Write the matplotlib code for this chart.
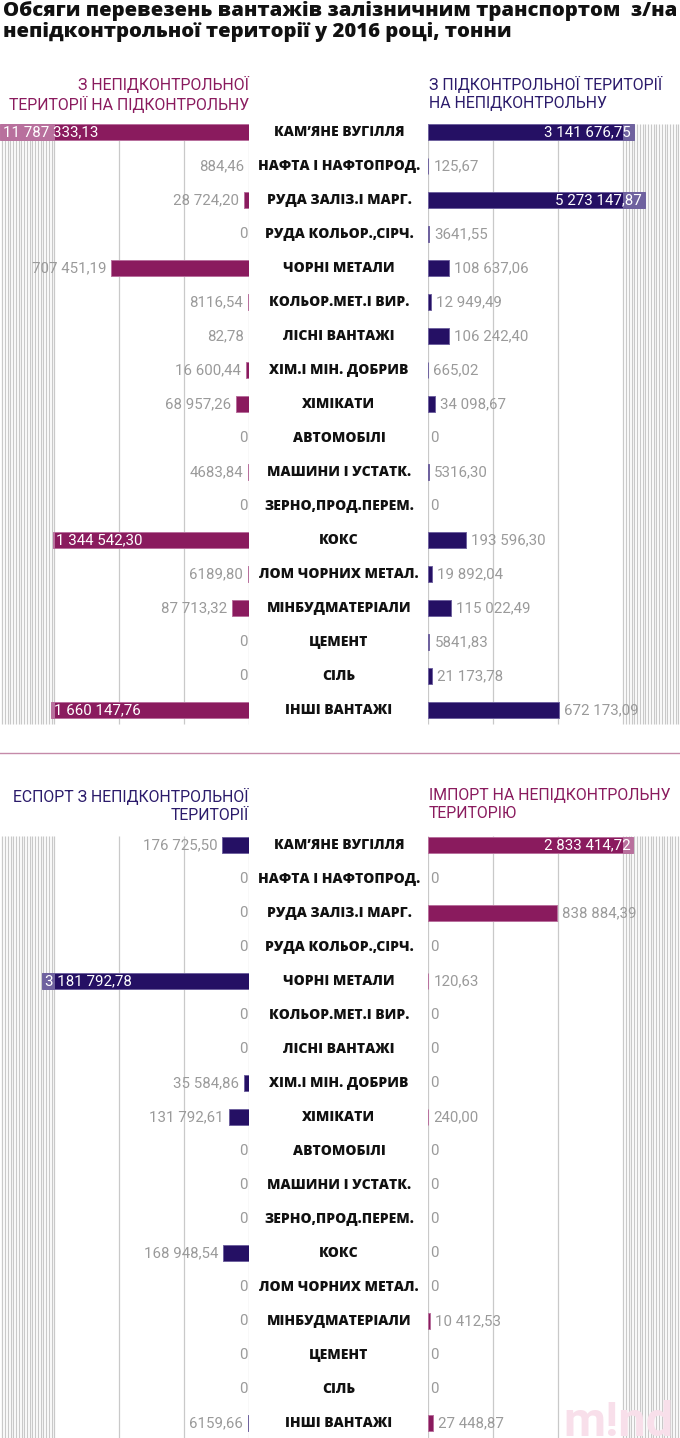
import numpy as np
import matplotlib
matplotlib.use("Agg")
import matplotlib.pyplot as plt
from matplotlib.transforms import blended_transform_factory

# ---------------- data ----------------
categories = ["КАМ’ЯНЕ ВУГІЛЛЯ", "НАФТА І НАФТОПРОД.", "РУДА ЗАЛІЗ.І МАРГ.", "РУДА КОЛЬОР.,СІРЧ.",
              "ЧОРНІ МЕТАЛИ", "КОЛЬОР.МЕТ.І ВИР.", "ЛІСНІ ВАНТАЖІ", "ХІМ.І МІН. ДОБРИВ",
              "ХІМІКАТИ", "АВТОМОБІЛІ", "МАШИНИ І УСТАТК.", "ЗЕРНО,ПРОД.ПЕРЕМ.",
              "КОКС", "ЛОМ ЧОРНИХ МЕТАЛ.", "МІНБУДМАТЕРІАЛИ", "ЦЕМЕНТ", "СІЛЬ", "ІНШІ ВАНТАЖІ"]

from_uncontrolled = [11787333.13, 884.46, 28724.20, 0, 707451.19, 8116.54, 82.78, 16600.44,
                     68957.26, 0, 4683.84, 0, 1344542.30, 6189.80, 87713.32, 0, 0, 1660147.76]
to_uncontrolled = [3141676.75, 125.67, 5273147.87, 3641.55, 108637.06, 12949.49, 106242.40, 665.02,
                   34098.67, 0, 5316.30, 0, 193596.30, 19892.04, 115022.49, 5841.83, 21173.78, 672173.09]
export_vals = [176725.50, 0, 0, 0, 3181792.78, 0, 0, 35584.86, 131792.61, 0, 0, 0,
               168948.54, 0, 0, 0, 0, 6159.66]
import_vals = [2833414.72, 0, 838884.39, 0, 120.63, 0, 0, 0, 240.00, 0, 0, 0,
               0, 0, 10412.53, 0, 0, 27448.87]

title = "Обсяги перевезень вантажів залізничним транспортом  з/на\nнепідконтрольної території у 2016 році, тонни"
sub_top_left = "З НЕПІДКОНТРОЛЬНОЇ\nТЕРИТОРІЇ НА ПІДКОНТРОЛЬНУ"
sub_top_right = "З ПІДКОНТРОЛЬНОЇ ТЕРИТОРІЇ\nНА НЕПІДКОНТРОЛЬНУ"
sub_bot_left = "ЕСПОРТ З НЕПІДКОНТРОЛЬНОЇ\nТЕРИТОРІЇ"
sub_bot_right = "ІМПОРТ НА НЕПІДКОНТРОЛЬНУ\nТЕРИТОРІЮ"

# ---------------- style ----------------
W, H = 680, 1438
MAG, MAG_L = "#8a1b5e", "#b8709d"
NAV, NAV_L = "#251064", "#6f629f"
GRID = "#c9c9c9"
VAL = "#9a9a9a"
FONT = "Roboto"
BOLDFONT = "Open Sans"

fig = plt.figure(figsize=(W / 100, H / 100), dpi=100)
fig.patch.set_facecolor("white")


def fmt(v):
    if v == 0:
        return "0"
    ip = int(v)
    dec = int(round((v - ip) * 100))
    if dec == 100:
        ip += 1
        dec = 0
    s = str(ip)
    if ip >= 10000:
        parts = []
        while len(s) > 3:
            parts.insert(0, s[-3:])
            s = s[:-3]
        parts.insert(0, s)
        s = " ".join(parts)
    return f"{s},{dec:02d}"


def make_scale(B, lin_px, slope):
    def fwd(v):
        v = np.asarray(v, dtype=float)
        return np.where(v <= B, v / B * lin_px, lin_px + (v - B) * slope)

    def inv(p):
        p = np.asarray(p, dtype=float)
        return np.where(p <= lin_px, p / lin_px * B, B + (p - lin_px) / slope)
    return fwd, inv


def px_axes(x0, y0, x1, y1):
    return fig.add_axes([x0 / W, 1 - y1 / H, (x1 - x0) / W, (y1 - y0) / H])


def panel(x0, x1, ytop, ybot, row0, rowstep, vals, color, color_l, side, B, slope, grid_top, grid_bot,
          dense_step):
    ax = px_axes(x0, ytop, x1, ybot)
    fwd, inv = make_scale(B, 195.0, slope)
    ax.set_xscale("function", functions=(fwd, inv))
    width_px = x1 - x0
    xmax = float(inv(width_px))
    if side == "left":
        ax.set_xlim(xmax, 0)
    else:
        ax.set_xlim(0, xmax)
    ax.set_ylim((ybot - row0) / rowstep, (ytop - row0) / rowstep)
    ax.axis("off")
    gy0 = (grid_top - row0) / rowstep
    gy1 = (grid_bot - row0) / rowstep
    # grid lines: linear part and compressed part
    gl = [0, B / 3, 2 * B / 3, B]
    k = 1
    while B + k * dense_step < xmax:
        gl.append(B + k * dense_step)
        k += 1
    ax.vlines(gl, gy0, gy1, colors=GRID, lw=0.9, zorder=1)

    y = np.arange(len(vals))
    v = np.asarray(vals, dtype=float)
    pos = v > 0
    big = v > B
    ax.barh(y[pos], np.minimum(v[pos], B), height=0.47, color=color, edgecolor=color_l, lw=0.7, zorder=3)
    if big.any():
        ax.barh(y[big], v[big] - B, left=B, height=0.47, color=color_l, edgecolor=color_l, lw=0.7,
                zorder=3)

    sgn = -1 if side == "left" else 1
    for yi, vi in zip(y, v):
        if vi > B:
            ax.annotate(fmt(vi), xy=(vi, yi), xytext=(-sgn * 3, 0), textcoords="offset pixels",
                        ha="left" if side == "left" else "right", va="center", color="white",
                        fontsize=10.8, fontfamily=FONT, fontweight="normal", zorder=5)
        else:
            off = 2 if vi == 0 else 5
            ax.annotate(fmt(vi), xy=(vi, yi), xytext=(sgn * off, 0), textcoords="offset pixels",
                        ha="right" if side == "left" else "left", va="center", color=VAL,
                        fontsize=10.8, fontfamily=FONT, fontweight="normal", zorder=5)
    return ax


def section(row0, ytop, ybot, grid_top, grid_bot, lvals, rvals, lcol, rcol, B, slope, dense_step):
    rowstep = 34.0
    axl = panel(0, 249.3, ytop, ybot, row0, rowstep, lvals, lcol[0], lcol[1], "left", B, slope,
                grid_top, grid_bot, dense_step)
    axr = panel(428.3, 680, ytop, ybot, row0, rowstep, rvals, rcol[0], rcol[1], "right", B, slope,
                grid_top, grid_bot, dense_step)
    tr = blended_transform_factory(fig.transFigure, axl.transData)
    for i, c in enumerate(categories):
        axl.text(339 / W, i, c, transform=tr, ha="center", va="center", fontsize=10,
                 fontfamily=BOLDFONT, fontweight=800, color="#111111", clip_on=False, zorder=6)


# title
fig.text(3 / W, 1 - 1 / H, title, ha="left", va="top", fontsize=14.6, fontfamily=BOLDFONT,
         fontweight=800, color="#111111", linespacing=1.08)

# top section
fig.text(249 / W, 1 - 76 / H, sub_top_left, ha="right", va="top", fontsize=11.4, fontfamily=FONT,
         fontweight="normal", color=MAG, linespacing=1.22)
fig.text(429 / W, 1 - 76 / H, sub_top_right, ha="left", va="top", fontsize=11.4, fontfamily=FONT,
         fontweight="normal", color="#2b1b6b", linespacing=1.22)
section(132, 115, 727, 123.5, 723.5, from_uncontrolled, to_uncontrolled,
        (MAG, MAG_L), (NAV, NAV_L), 1.0e6, 5.0e-6, 0.55e6)

# separator
fig.add_artist(plt.Line2D([0, 1], [1 - 753 / H, 1 - 753 / H], color="#c58aa9", lw=1.0))

# bottom section
fig.text(249 / W, 1 - 788 / H, sub_bot_left, ha="right", va="top", fontsize=11.4, fontfamily=FONT,
         fontweight="normal", color="#2b1b6b", linespacing=1.22)
fig.text(429 / W, 1 - 788 / H, sub_bot_right, ha="left", va="top", fontsize=11.4, fontfamily=FONT,
         fontweight="normal", color=MAG, linespacing=1.22)
section(845, 828, 1438, 836, 1438, export_vals, import_vals,
        (NAV, NAV_L), (MAG, MAG_L), 1.27e6, 6.5e-6, 0.42e6)

# logo
fig.text(563 / W, 1 - 1400 / H, "m!nd", ha="left", va="top", fontsize=35, fontfamily=FONT,
         fontweight="bold", color="#f8dfea", zorder=0)

fig.savefig("out.png", dpi=100)
